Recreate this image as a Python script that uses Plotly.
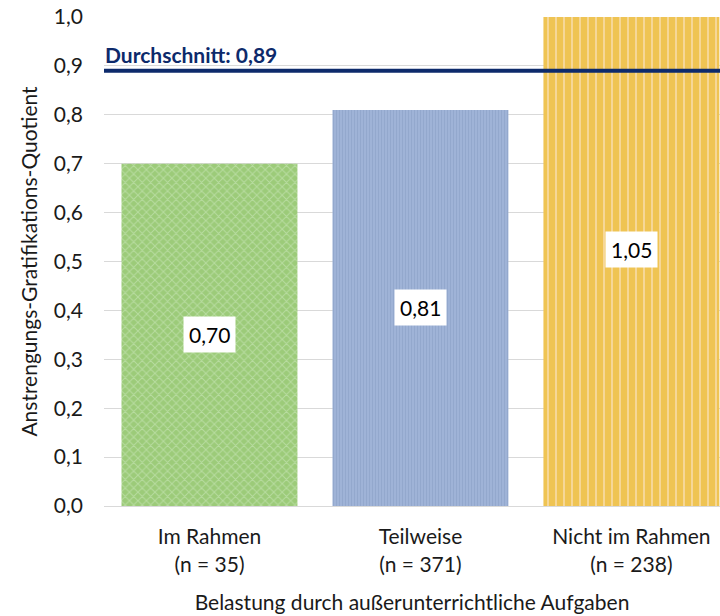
import plotly.graph_objects as go

# Effort-reward ratio by workload from extra-curricular duties
categories = ["Im Rahmen", "Teilweise", "Nicht im Rahmen"]
group_sizes = [35, 371, 238]
values = [0.70, 0.81, 1.05]
value_labels = ["0,70", "0,81", "1,05"]
average = 0.89
average_label = "Durchschnitt: 0,89"
y_ticks = [0.0, 0.1, 0.2, 0.3, 0.4, 0.5, 0.6, 0.7, 0.8, 0.9, 1.0]

bar_colors = ["#9ccb79", "#9fb3d7", "#efc453"]
pattern_shapes = ["x", "|", "|"]
pattern_fg = ["#b8dca0", "#92a7cc", "#f8dca8"]
pattern_size = [6, 3, 8]
pattern_solidity = [0.3, 0.3, 0.2]

FONT = "Lato, Open Sans, sans-serif"
TEXT = "#1a1a1a"
FS = 21

tick_text = [f"{c}<br>(n = {n})" for c, n in zip(categories, group_sizes)]

fig = go.Figure()
for i, (cat, v) in enumerate(zip(categories, values)):
    fig.add_trace(go.Bar(
        x=[cat],
        y=[v],
        marker=dict(
            color=bar_colors[i],
            line=dict(width=0),
            pattern=dict(
                shape=pattern_shapes[i],
                fgcolor=pattern_fg[i],
                bgcolor=bar_colors[i],
                size=pattern_size[i],
                solidity=pattern_solidity[i],
                fillmode="replace",
            ),
        ),
        hoverinfo="skip",
    ))

# value labels in white boxes, centred on each bar's full height
for cat, v, lab in zip(categories, values, value_labels):
    fig.add_annotation(
        x=cat, y=v / 2, text=lab, showarrow=False,
        font=dict(family=FONT, size=FS, color="#000000"),
        bgcolor="white", borderpad=5,
    )

# average line across the whole plot
fig.add_shape(
    type="line", xref="paper", x0=0, x1=1, yref="y", y0=average, y1=average,
    line=dict(color="#0d2a6b", width=4),
)
fig.add_annotation(
    xref="paper", x=-0.002, yref="y", y=average, yanchor="bottom", xanchor="left",
    text="<b>" + average_label + "</b>", showarrow=False,
    font=dict(family=FONT, size=FS, color="#0d2a6b"),
    yshift=2,
)

fig.update_layout(
    width=720, height=616,
    margin=dict(l=104, r=0, t=17, b=110),
    plot_bgcolor="white", paper_bgcolor="white",
    separators=",.",
    barmode="overlay",
    bargap=0.166,
    showlegend=False,
    font=dict(family=FONT, size=FS, color=TEXT),
)
fig.update_yaxes(
    range=[0, 1.0], tickvals=y_ticks, tickformat=".1f",
    showgrid=True, gridcolor="#d9d9d9", gridwidth=1,
    zeroline=False, showline=False, ticks="", ticklabelstandoff=20,
    tickfont=dict(family=FONT, size=FS, color=TEXT),
    title=dict(text="Anstrengungs-Gratifikations-Quotient",
               font=dict(family=FONT, size=FS, color=TEXT), standoff=10),
)
fig.update_xaxes(
    range=[-0.5, 2.42],
    tickvals=categories, ticktext=tick_text,
    showline=True, linecolor="#d9d9d9", linewidth=1,
    ticks="", ticklabelstandoff=12,
    tickfont=dict(family=FONT, size=FS, color=TEXT),
    title=dict(text="Belastung durch außerunterrichtliche Aufgaben",
               font=dict(family=FONT, size=FS, color=TEXT), standoff=20),
)

fig.write_html("out.html")
